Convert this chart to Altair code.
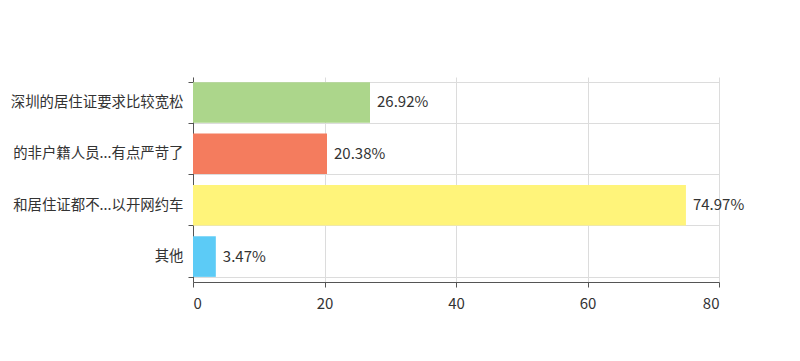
import altair as alt
import pandas as pd

categories = ["深圳的居住证要求比较宽松", "的非户籍人员...有点严苛了", "和居住证都不...以开网约车", "其他"]
values = [26.92, 20.38, 74.97, 3.47]
labels = ["26.92%", "20.38%", "74.97%", "3.47%"]
colors = ["#acd68b", "#f47c5e", "#fff47a", "#5ccbf6"]
x_ticks = [0, 20, 40, 60, 80]

df = pd.DataFrame({"cat": categories, "val": values, "lab": labels, "col": colors})

FONT = "Noto Sans CJK SC"

y_enc = alt.Y("cat:N", sort=categories, title=None,
              scale=alt.Scale(paddingInner=0.21, paddingOuter=0.1),
              axis=alt.Axis(labelFontSize=14.4, labelColor="#333", labelFont=FONT,
                            labelLimit=400, labelPadding=5, tickSize=5,
                            tickColor="#555", domainColor="#555", tickBand="extent",
                            grid=True, gridColor="#dcdcdc"))
x_enc = alt.X("val:Q", title=None,
              scale=alt.Scale(domain=[0, 80], nice=False),
              axis=alt.Axis(values=x_ticks, labelFontSize=15, labelColor="#333", labelFont=FONT,
                            tickSize=5, tickColor="#555", domainColor="#555",
                            labelPadding=9, grid=True, gridColor="#dcdcdc"))

bars = alt.Chart(df).mark_bar().encode(
    x=x_enc, y=y_enc,
    color=alt.Color("col:N", scale=None),
)
text = alt.Chart(df).mark_text(align="left", baseline="middle", dx=7, fontSize=15,
                               font=FONT, color="#333").encode(
    x="val:Q", y=alt.Y("cat:N", sort=categories), text="lab:N"
)

chart = (bars + text).properties(
    width=526, height=205,
    autosize=alt.AutoSizeParams(type="none"),
    padding={"left": 185, "top": 69, "right": 73, "bottom": 60},
).configure_view(stroke=None)

chart.save("out.html", embed_options={"renderer": "svg", "actions": False})
